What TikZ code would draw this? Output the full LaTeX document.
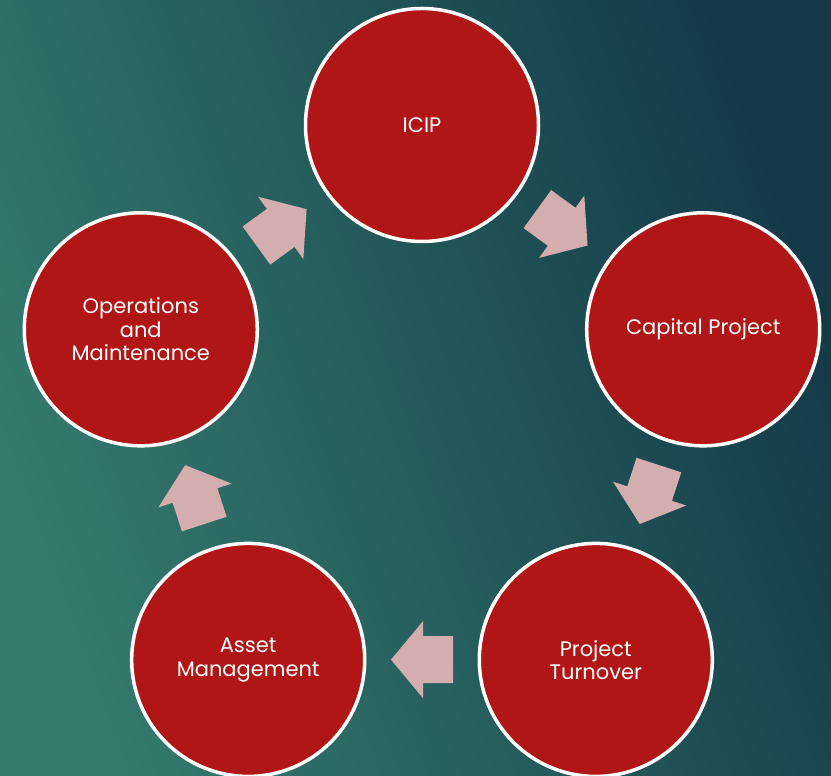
\documentclass[tikz,border=0pt]{standalone}
\usepackage{fontspec}
\setmainfont{Poppins}
\definecolor{bgdark}{HTML}{143A48}
\definecolor{bglight}{HTML}{347A6E}
\definecolor{circred}{HTML}{B01615}
\definecolor{arrowpink}{HTML}{D4AEAF}
\begin{document}
\begin{tikzpicture}[x=1pt,y=1pt,
  stage/.style={circle, minimum size=233pt, inner sep=0pt, fill=circred, draw=white, line width=3.5pt,
    text=white, align=center, font=\fontsize{21}{23.5}\selectfont},
  blockarrow/.style={fill=arrowpink, draw=none}]
\useasboundingbox (0,0) rectangle (831,776);
\shade[top color=bgdark, bottom color=bglight, shading angle=-70] (0,0) rectangle (831,776);
\coordinate (C) at (422,355.3);
\begin{scope}[shift={(C)}]
  \node[stage] (icip) at (90:295.7pt) {ICIP};
  \node[stage] (cap) at (18:295.7pt) {Capital Project};
  \node[stage] (turn) at (-54:295.7pt) {Project\\Turnover};
  \node[stage] (asset) at (-126:295.7pt) {Asset\\Management};
  \node[stage] (ops) at (162:295.7pt) {Operations\\and\\Maintenance};
  \foreach \a in {54,-18,-90,-162,126}{
    \fill[blockarrow, shift={(\a:239pt)}, rotate=\a-90]
      (31,0) -- (-1,38.5) -- (-1,23.5) -- (-31,23.5) -- (-31,-23.5) -- (-1,-23.5) -- (-1,-38.5) -- cycle;
  }
\end{scope}
\end{tikzpicture}
\end{document}
